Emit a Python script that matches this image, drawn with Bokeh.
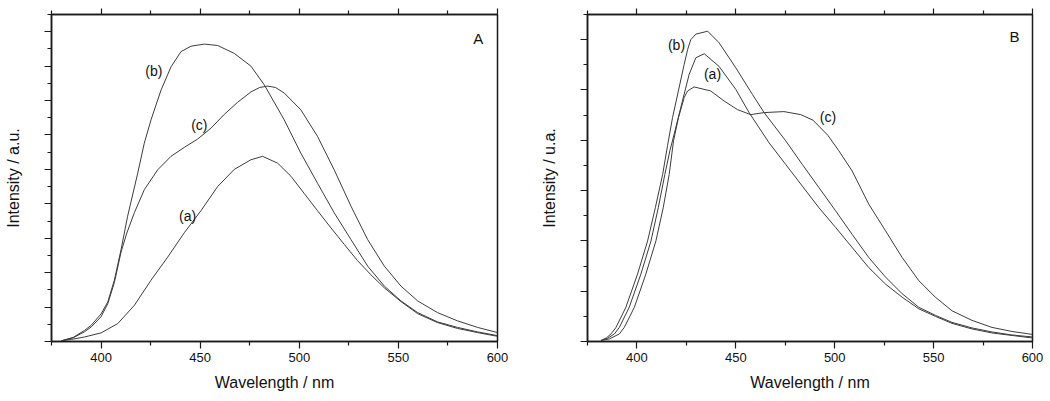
from bokeh.plotting import figure
from bokeh.layouts import row
from bokeh.models import Range1d, FixedTicker, LinearAxis
from bokeh.core.properties import value
from bokeh.embed import file_html
from bokeh.resources import INLINE

# ---------------- data (wavelength nm, intensity a.u.) ----------------
A_a_x = [380, 385, 391.6, 400, 408.4, 416.8, 425.2, 433.6, 442.0, 450.4, 458.8, 467.2, 475.6, 481.5,
         489.1, 495.8, 502.5, 509.2, 516.0, 522.7, 529.4, 536.1, 542.9, 551.3, 559.7, 569.7,
         579.8, 589.9, 600]
A_a_y = [0.02, 0.06, 0.13, 0.25, 0.52, 1.05, 1.78, 2.45, 3.16, 3.80, 4.50, 5.00, 5.28, 5.38,
         5.18, 4.80, 4.30, 3.80, 3.30, 2.82, 2.35, 1.94, 1.56, 1.16, 0.81, 0.55,
         0.38, 0.26, 0.15]

A_b_x = [380, 386, 391.6, 395, 400, 403.4, 406.7, 410.1, 413.4, 418.5, 421.8, 425.2, 430.3, 435.3,
         440.3, 445.4, 452.1, 458.8, 467.2, 475.6, 482.4, 492.4, 500.8, 509.2, 517.6, 526.1,
         534.5, 542.9, 551.3, 559.7, 569.7, 579.8, 589.9, 600]
A_b_y = [0.02, 0.12, 0.32, 0.47, 0.80, 1.15, 1.78, 2.67, 3.64, 4.89, 5.76, 6.44, 7.31, 7.98,
         8.42, 8.58, 8.64, 8.60, 8.37, 8.00, 7.45, 6.44, 5.47, 4.60, 3.74, 2.96,
         2.19, 1.61, 1.18, 0.84, 0.57, 0.41, 0.28, 0.17]

A_c_x = [380, 386, 391.6, 395, 400, 403.4, 406.7, 410.1, 413.0, 416.8, 421.8, 428.6, 435.3, 442.0,
         448.7, 455.5, 462.2, 468.9, 475.6, 480.0, 484.0, 488.0, 492.4, 500.8, 509.2, 517.6,
         526.1, 534.5, 542.9, 551.3, 559.7, 569.7, 579.8, 589.9, 600]
A_c_y = [0.02, 0.11, 0.28, 0.42, 0.72, 1.10, 1.71, 2.60, 3.15, 3.74, 4.41, 4.99, 5.38, 5.64,
         5.88, 6.20, 6.60, 6.95, 7.25, 7.38, 7.42, 7.38, 7.22, 6.73, 5.96, 4.99,
         3.93, 2.96, 2.19, 1.61, 1.18, 0.84, 0.60, 0.41, 0.26]

B_a_x = [381.8, 385.0, 388.6, 391.1, 396.1, 402.0, 407.1, 410.8, 414.1, 416.7, 418.8, 423.0, 426.4,
         429.8, 434.0, 441.5, 450.0, 456.7, 466.8, 475.2, 483.6, 492.0, 500.4, 508.8, 517.2,
         525.7, 534.1, 542.5, 550.9, 559.3, 569.4, 579.5, 589.6, 600]
B_a_y = [0.02, 0.06, 0.15, 0.28, 0.68, 1.34, 2.00, 2.66, 3.32, 3.80, 4.12, 4.78, 5.31,
         5.64, 5.72, 5.47, 5.01, 4.55, 3.95, 3.52, 3.09, 2.66, 2.27, 1.87, 1.47,
         1.14, 0.88, 0.65, 0.50, 0.36, 0.25, 0.17, 0.12, 0.07]

B_b_x = [381.8, 384.5, 386.9, 389.4, 394.4, 400.3, 405.4, 409.3, 413.0, 415.5, 418.0, 420.5, 423.9,
         425.6, 427.2, 429.8, 434.0, 435.7, 441.5, 450.0, 458.4, 464.3, 475.2, 483.6, 492.0,
         500.4, 508.8, 517.2, 525.7, 534.1, 542.5, 550.9, 559.3, 569.4, 579.5, 589.6, 600]
B_b_y = [0.02, 0.07, 0.15, 0.28, 0.68, 1.34, 2.00, 2.66, 3.32, 3.90, 4.45, 4.90, 5.51,
         5.80, 6.00, 6.11, 6.15, 6.17, 5.94, 5.44, 4.91, 4.55, 3.99, 3.52, 3.06,
         2.60, 2.13, 1.67, 1.28, 0.95, 0.68, 0.52, 0.38, 0.27, 0.19, 0.13, 0.09]

B_c_x = [381.8, 386.0, 391.1, 393.6, 398.7, 404.5, 409.6, 413.3, 416.3, 418.5, 421.0, 423.9, 425.6,
         428.9, 437.3, 444.1, 450.8, 457.5, 464.3, 474.3, 482.8, 489.0, 496.5, 502.1, 508.8,
         517.2, 525.7, 534.1, 542.5, 550.9, 559.3, 569.4, 579.5, 589.6, 600]
B_c_y = [0.02, 0.05, 0.15, 0.28, 0.68, 1.34, 2.00, 2.66, 3.32, 3.99, 4.45, 4.85, 4.98,
         5.06, 4.98, 4.78, 4.61, 4.51, 4.55, 4.57, 4.51, 4.40, 4.10, 3.79, 3.39,
         2.73, 2.20, 1.67, 1.21, 0.88, 0.61, 0.42, 0.28, 0.20, 0.14]

X_MAJOR = [400, 450, 500, 550, 600]
X_MINOR = [375, 425, 475, 525, 575]

FONT = "Liberation Sans"
LINE_COLOR = "#3c3c3c"
AXIS_COLOR = "#1a1a1a"


def style_axis(ax):
    ax.axis_line_color = AXIS_COLOR
    ax.axis_line_width = 1.5
    ax.major_tick_line_color = AXIS_COLOR
    ax.minor_tick_line_color = AXIS_COLOR
    ax.major_tick_line_width = 1.2
    ax.minor_tick_line_width = 1.2
    ax.major_tick_in = 0
    ax.minor_tick_in = 0
    ax.axis_label_text_font = FONT
    ax.axis_label_text_font_size = "16px"
    ax.axis_label_text_font_style = "normal"
    ax.axis_label_text_color = "#111111"
    ax.major_label_text_font = FONT
    ax.major_label_text_color = "#111111"


def make_panel(series, ymax, ylabel, letter, letter_pos, labels, width, bl, br, bt, bb):
    p = figure(width=width, height=400, output_backend="svg", toolbar_location=None,
               x_range=Range1d(375, 600), y_range=Range1d(0, ymax),
               min_border_left=bl, min_border_right=br, min_border_top=bt, min_border_bottom=bb)
    p.grid.visible = False
    p.background_fill_color = "white"
    p.border_fill_color = "white"
    p.outline_line_color = AXIS_COLOR
    p.outline_line_width = 1.5

    for xs, ys in series:
        p.line(xs, ys, line_color=LINE_COLOR, line_width=1)

    ymaj = list(range(0, int(ymax) + 1))
    ymin = [i + 0.5 for i in range(0, int(ymax) + 1) if i + 0.5 <= ymax]

    xa = p.xaxis[0]
    style_axis(xa)
    xa.ticker = FixedTicker(ticks=X_MAJOR, minor_ticks=X_MINOR)
    xa.axis_label = "Wavelength / nm"
    xa.major_tick_out = 7
    xa.minor_tick_out = 4
    xa.major_label_text_font_size = "13px"
    xa.major_label_standoff = 4
    xa.axis_label_standoff = 9

    ya = p.yaxis[0]
    style_axis(ya)
    ya.ticker = FixedTicker(ticks=ymaj, minor_ticks=ymin)
    ya.axis_label = ylabel
    ya.major_tick_out = 7
    ya.minor_tick_out = 4
    ya.major_label_text_font_size = "1px"
    ya.major_label_text_color = None
    ya.major_label_standoff = 0
    ya.axis_label_standoff = 23

    top = LinearAxis(ticker=FixedTicker(ticks=X_MAJOR, minor_ticks=X_MINOR))
    style_axis(top)
    top.major_label_text_font_size = "1px"
    top.major_label_text_color = None
    top.major_label_standoff = 0
    top.major_tick_out = 6
    top.minor_tick_out = 4
    p.add_layout(top, "above")

    for (tx, ty, t) in labels:
        p.text(x=[tx], y=[ty], text=[t], text_font=value(FONT), text_font_size="14px",
               text_align="center", text_baseline="middle", text_color="#111111")
    p.text(x=[letter_pos[0]], y=[letter_pos[1]], text=[letter], text_font=value(FONT),
           text_font_size="15px", text_align="center", text_baseline="middle", text_color="#111111")
    return p


pA = make_panel([(A_a_x, A_a_y), (A_b_x, A_b_y), (A_c_x, A_c_y)], 9.5, "Intensity / a.u.", "A",
                (590.3, 8.80), [(426.6, 7.86, "(b)"), (449.6, 6.29, "(c)"), (443.7, 3.64, "(a)")],
                width=520, bl=51, br=23, bt=14, bb=58)
pB = make_panel([(B_a_x, B_a_y), (B_b_x, B_b_y), (B_c_x, B_c_y)], 6.5, "Intensity / u.a.", "B",
                (590.9, 6.07), [(420.0, 5.90, "(b)"), (438.2, 5.31, "(a)"), (496.6, 4.46, "(c)")],
                width=528, bl=67, br=16, bt=13, bb=59)

layout = row(pA, pB)
open("out.html", "w").write(file_html(layout, INLINE))
